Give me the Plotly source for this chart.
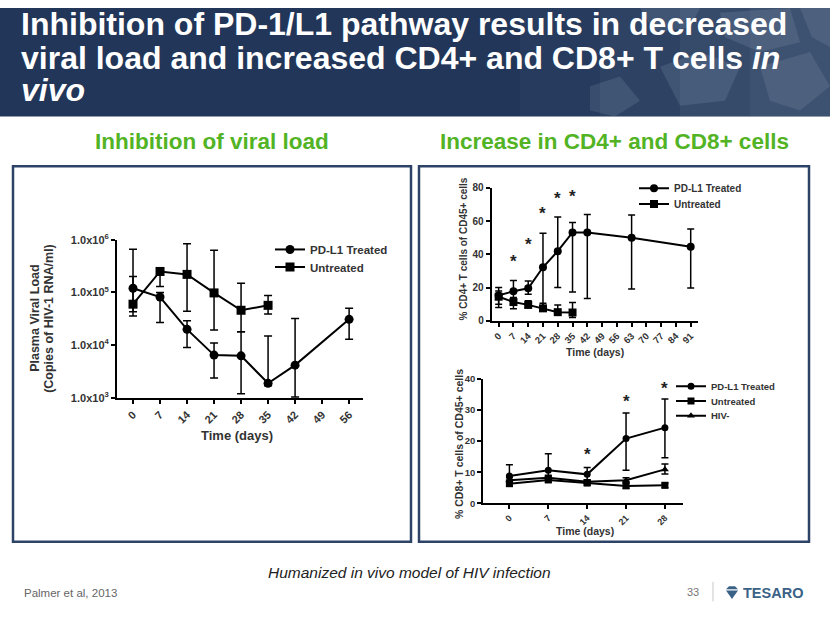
import numpy as np
import plotly.graph_objects as go

W, H = 830, 623
def X(px): return px / W
def Y(py): return 1 - py / H

# ---------------- data ----------------
days_vl = [0, 7, 14, 21, 28, 35, 42, 56]
vl_treated = [1.2e5, 8.2e4, 2.0e4, 6.5e3, 6.3e3, 1.9e3, 4.2e3, 3.1e4]
vl_treated_hi = [2.0e5, 1.0e5, 2.9e4, 1.1e4, 1.8e4, 1.5e4, 3.2e4, 5.0e4]
vl_treated_lo = [3.6e4, 2.7e4, 9.1e3, 2.4e3, 1.2e3, 1.7e3, 1.05e3, 1.3e4]

days_vl_un = [0, 7, 14, 21, 28, 35]
vl_untreated = [6.0e4, 2.5e5, 2.2e5, 9.8e4, 4.6e4, 5.7e4]
vl_untreated_hi = [6.6e5, 2.7e5, 8.4e5, 6.3e5, 1.5e5, 8.8e4]
vl_untreated_lo = [4.3e4, 1.3e5, 4.4e4, 1.95e4, 1.8e4, 3.9e4]

vl_star_days = [7, 14, 21]
vl_star_y = [1.05e6, 2.2e6, 1.8e6]
vl_ticks = [1e3, 1e4, 1e5, 1e6]
vl_ticktext = ["1.0x10<sup>3</sup>", "1.0x10<sup>4</sup>", "1.0x10<sup>5</sup>", "1.0x10<sup>6</sup>"]

days_cd4 = [0, 7, 14, 21, 28, 35, 42, 63, 91]
cd4_treated = [15.3, 17.8, 19.6, 32.2, 41.9, 53.2, 53.2, 50.0, 44.5]
cd4_treated_hi = [20.0, 24.3, 23.9, 52.7, 62.4, 59.2, 64.0, 63.7, 55.3]
cd4_treated_lo = [10.0, 12.0, 16.0, 9.0, 20.0, 17.3, 13.4, 19.2, 19.8]

days_cd4_un = [0, 7, 14, 21, 28, 35]
cd4_untreated = [14.5, 11.3, 9.6, 7.5, 5.2, 5.0]
cd4_untreated_hi = [18.0, 14.0, 12.0, 10.5, 9.5, 11.0]
cd4_untreated_lo = [8.0, 7.2, 7.8, 6.0, 3.5, 2.0]

cd4_star_days = [7, 14, 21, 28, 35]
cd4_star_y = [35.9, 45.9, 64.7, 73.5, 74.7]

days_cd8 = [0, 7, 14, 21, 28]
cd8_treated = [8.8, 10.6, 9.3, 20.8, 24.3]
cd8_treated_hi = [12.4, 15.9, 11.5, 29.0, 33.5]
cd8_treated_lo = [7.0, 8.5, 7.5, 10.6, 14.6]
cd8_untreated = [6.3, 7.5, 6.5, 5.6, 5.8]
cd8_untreated_hi = [7.5, 8.8, 7.2, 6.5, 6.5]
cd8_untreated_lo = [5.5, 6.8, 5.8, 4.8, 5.0]
cd8_hivneg = [7.4, 8.2, 6.9, 7.4, 10.9]
cd8_hivneg_hi = [8.2, 9.0, 7.6, 8.2, 12.6]
cd8_hivneg_lo = [6.6, 7.4, 6.2, 6.6, 9.4]

cd8_star_days = [14, 21, 28]
cd8_star_y = [16.5, 33.8, 37.9]

FONT = "Liberation Sans, Arial, sans-serif"

def err(mean, hi, lo, w=4, t=1.5):
    m = np.array(mean, float)
    return dict(type="data", symmetric=False,
                array=np.array(hi, float) - m, arrayminus=m - np.array(lo, float),
                color="black", thickness=t, width=w)

def tf(s):
    return dict(family=FONT, size=s, color="#333333", weight="bold")

fig = go.Figure()
legends = {}

def series(x, y, hi, lo, name, sym, size, xa, ya, legend, lx, ly, lfont, ew=4):
    fig.add_trace(go.Scatter(
        x=x, y=y, name=name, mode="lines+markers", xaxis=xa, yaxis=ya,
        legend=legend, cliponaxis=False,
        line=dict(color="black", width=2),
        marker=dict(symbol=sym, size=size, color="black"),
        error_y=err(y, hi, lo, w=ew)))
    legends[legend] = dict(x=X(lx - 39), y=Y(ly), xanchor="left", yanchor="middle",
                           bgcolor="rgba(0,0,0,0)", font=tf(lfont), itemwidth=30)

series(days_vl, vl_treated, vl_treated_hi, vl_treated_lo, "PD-L1 Treated", "circle", 9, "x", "y",
       "legend", 309, 247, 11.5)
series(days_vl_un, vl_untreated, vl_untreated_hi, vl_untreated_lo, "Untreated", "square", 9, "x", "y",
       "legend2", 309, 265, 11.5)
series(days_cd4, cd4_treated, cd4_treated_hi, cd4_treated_lo, "PD-L1 Treated", "circle", 8, "x2", "y2",
       "legend3", 673, 184.5, 10, 3.5)
series(days_cd4_un, cd4_untreated, cd4_untreated_hi, cd4_untreated_lo, "Untreated", "square", 8, "x2", "y2",
       "legend4", 673, 200.5, 10, 3.5)
series(days_cd8, cd8_treated, cd8_treated_hi, cd8_treated_lo, "PD-L1 Treated", "circle", 7, "x3", "y3",
       "legend5", 710, 387, 9.5, 3.5)
series(days_cd8, cd8_untreated, cd8_untreated_hi, cd8_untreated_lo, "Untreated", "square", 7, "x3", "y3",
       "legend6", 710, 402, 9.5, 3.5)
series(days_cd8, cd8_hivneg, cd8_hivneg_hi, cd8_hivneg_lo, "HIV-", "triangle-up", 7, "x3", "y3",
       "legend7", 710, 417, 9.5, 3.5)

axis_common = dict(showline=True, linewidth=2, linecolor="black", ticks="outside",
                   ticklen=4, tickwidth=1.5, tickcolor="black", showgrid=False,
                   zeroline=False, fixedrange=True)

fig.update_layout(
    width=W, height=H, margin=dict(l=0, r=0, t=0, b=0),
    paper_bgcolor="white", plot_bgcolor="rgba(0,0,0,0)",
    xaxis=dict(axis_common, domain=[X(117), X(363)], range=[-4.15, 59.6], anchor="y",
               tickvals=list(range(0, 57, 7)), tickangle=-45, tickfont=tf(11)),
    yaxis=dict(axis_common, domain=[Y(399), Y(237)], type="log", range=[3, 6], anchor="x",
               tickvals=vl_ticks, ticktext=vl_ticktext, tickfont=tf(11)),
    xaxis2=dict(axis_common, domain=[X(491.7), X(698.3)], range=[-3.3, 94.6], anchor="y2",
                tickvals=list(range(0, 92, 7)), tickangle=-45, tickfont=tf(9.5)),
    yaxis2=dict(axis_common, domain=[Y(320), Y(184)], range=[0, 80], anchor="x2",
                tickvals=[0, 20, 40, 60, 80], tickfont=tf(10)),
    xaxis3=dict(axis_common, domain=[X(483.3), X(682.7)], range=[-4.7, 31.2], anchor="y3",
                tickvals=days_cd8, tickangle=-45, tickfont=tf(9)),
    yaxis3=dict(axis_common, domain=[Y(506.7), Y(379.3)], range=[0, 40], anchor="x3",
                tickvals=[0, 10, 20, 30, 40], tickfont=tf(9.5)),
    showlegend=True,
    **legends,
)

shapes = []
# title banner
shapes.append(dict(type="rect", xref="paper", yref="paper", x0=0, x1=1, y0=Y(111), y1=1,
                   fillcolor="#213658", line=dict(width=0), layer="below"))
# lighter right part of banner (photo background)
for x0, a in [(520, 0.04), (600, 0.05), (680, 0.06), (750, 0.06)]:
    shapes.append(dict(type="rect", xref="paper", yref="paper", x0=X(x0), x1=1, y0=Y(111), y1=1,
                       fillcolor=f"rgba(190,205,225,{a})", line=dict(width=0), layer="below"))
crystals = [
    "M 640 0 L 700 0 L 690 20 L 655 25 Z",
    "M 720 5 L 790 0 L 800 35 L 760 45 L 725 30 Z",
    "M 760 60 L 810 45 L 830 80 L 800 105 L 770 95 Z",
    "M 660 60 L 700 45 L 740 60 L 725 95 L 680 100 Z",
    "M 800 0 L 830 0 L 830 40 L 812 30 Z",
    "M 590 80 L 620 70 L 640 95 L 615 111 L 590 105 Z",
]
for pth in crystals:
    pts = pth.split()
    out = []
    i = 0
    while i < len(pts):
        tok = pts[i]
        if tok in ("M", "L"):
            out.append(f"{tok} {X(float(pts[i+1])):.4f},{Y(float(pts[i+2])):.4f}")
            i += 3
        else:
            out.append(tok)
            i += 1
    shapes.append(dict(type="path", xref="paper", yref="paper", path=" ".join(out),
                       fillcolor="rgba(200,215,235,0.12)", line=dict(width=0), layer="below"))
# panel borders
for x0, x1 in [(13, 411), (419, 809)]:
    shapes.append(dict(type="rect", xref="paper", yref="paper", x0=X(x0), x1=X(x1),
                       y0=Y(546), y1=Y(162), line=dict(color="#2c4266", width=2.5),
                       fillcolor="rgba(0,0,0,0)"))
# footer separator
shapes.append(dict(type="line", xref="paper", yref="paper", x0=X(713), x1=X(713),
                   y0=Y(607), y1=Y(587), line=dict(color="#c8c8c8", width=1)))
# TESARO gem logo
def ppath(pts):
    return "M " + " L ".join(f"{X(a):.4f},{Y(b):.4f}" for a, b in pts) + " Z"
shapes.append(dict(type="path", xref="paper", yref="paper",
                   path=ppath([(726, 594.5), (729, 591.5), (735, 591.5), (738, 594.5)]),
                   fillcolor="#3a6186", line=dict(width=0)))
shapes.append(dict(type="path", xref="paper", yref="paper",
                   path=ppath([(726, 595.8), (738, 595.8), (732, 604.5)]),
                   fillcolor="#3a6186", line=dict(width=0)))
fig.update_layout(shapes=shapes)

ann = []
def A(text, x, y, size, color="black", bold=True, italic=False, xanchor="center",
      angle=0, xref="paper", yref="paper", yshift=0, family=FONT):
    ann.append(dict(text=text, x=x, y=y, xref=xref, yref=yref, showarrow=False,
                    xanchor=xanchor, yanchor="middle", textangle=angle, yshift=yshift,
                    font=dict(family=family, size=size, color=color,
                              weight="bold" if bold else "normal",
                              style="italic" if italic else "normal")))

# title
A("Inhibition of PD-1/L1 pathway results in decreased", X(19), Y(23), 32, "white", xanchor="left", yshift=6)
A("viral load and increased CD4+ and CD8+ T cells <i>in</i>", X(19), Y(57), 32, "white", xanchor="left", yshift=6)
A("<i>vivo</i>", X(19), Y(90), 32, "white", xanchor="left", yshift=6)
# subtitles
A("Inhibition of viral load", X(212), Y(137), 22.5, "#52b324")
A("Increase in CD4+ and CD8+ cells", X(614), Y(137), 22.5, "#52b324")

# axis titles
A("Plasma Viral Load", X(35), Y(318), 12.5, "#333333", angle=-90)
A("(Copies of HIV-1 RNA/ml)", X(49), Y(318), 12.5, "#333333", angle=-90)
A("Time (days)", X(237), Y(437), 13, "#333333")
A("% CD4+ T cells of CD45+ cells", X(463), Y(247), 10, "#333333", angle=-90)
A("Time (days)", X(595), Y(352), 10.5, "#333333")
A("% CD8+ T cells of CD45+ cells", X(459), Y(446), 10.5, "#333333", angle=-90)
A("Time (days)", X(585), Y(535), 10.5, "#333333")

# significance stars
for d, v in zip(vl_star_days, vl_star_y):
    A("*", d, np.log10(v), 20, "#222222", xref="x", yref="y", yshift=-14)
for d, v in zip(cd4_star_days, cd4_star_y):
    A("*", d, v, 17, "#222222", xref="x2", yref="y2", yshift=0)
for d, v in zip(cd8_star_days, cd8_star_y):
    A("*", d, v, 17, "#222222", xref="x3", yref="y3", yshift=-3)

# footer
A("Humanized in vivo model of HIV infection", X(409), Y(574), 15.5, "#222222", bold=False, italic=True, yshift=-3)
A("Palmer et al, 2013", X(22), Y(598), 11.5, "#666666", bold=False, xanchor="left")
A("33", X(701), Y(597), 11, "#777777", bold=False, xanchor="right")
A("TESARO", X(741), Y(598), 14.5, "#3a6186", bold=True, xanchor="left")

fig.update_layout(annotations=ann)
fig.write_html("out.html")
